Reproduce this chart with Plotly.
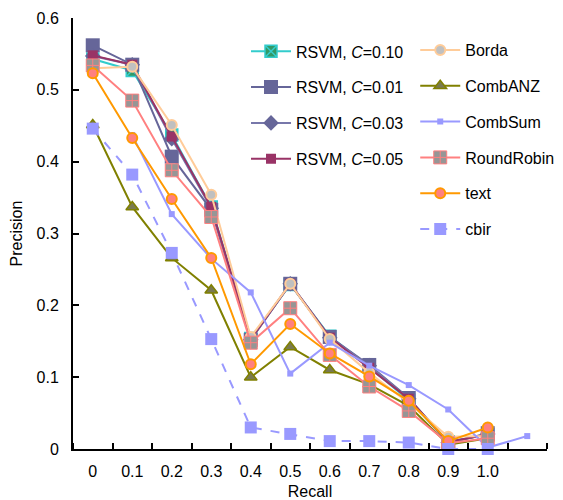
import plotly.graph_objects as go

recall_labels = ["0", "0.1", "0.2", "0.3", "0.4", "0.5", "0.6", "0.7", "0.8", "0.9", "1.0"]

rsvm_010 = [0.543, 0.527, 0.437, 0.337, 0.154, 0.229, 0.157, 0.114, 0.068, 0.010, 0.020]
rsvm_001 = [0.562, 0.535, 0.407, 0.333, 0.152, 0.230, 0.156, 0.117, 0.071, 0.008, 0.022]
rsvm_003 = [0.547, 0.535, 0.432, 0.335, 0.152, 0.230, 0.155, 0.116, 0.070, 0.009, 0.021]
rsvm_005 = [0.548, 0.535, 0.435, 0.337, 0.153, 0.230, 0.155, 0.113, 0.070, 0.010, 0.020]
borda = [0.530, 0.532, 0.451, 0.354, 0.156, 0.230, 0.153, 0.106, 0.064, 0.017, 0.018]
combanz = [0.451, 0.337, 0.266, 0.221, 0.100, 0.142, 0.110, 0.090, 0.060, 0.006, 0.015]
# CombSum is drawn shifted one position to the right (starts at the 0.1 slot)
combsum = [0.437, 0.327, 0.265, 0.218, 0.105, 0.148, 0.116, 0.089, 0.055, 0.002, 0.018]
combsum_start = 1
roundrobin = [0.534, 0.485, 0.388, 0.323, 0.148, 0.196, 0.131, 0.087, 0.053, 0.008, 0.015]
text_vals = [0.523, 0.433, 0.348, 0.266, 0.118, 0.174, 0.133, 0.101, 0.067, 0.011, 0.030]
cbir = [0.446, 0.382, 0.273, 0.153, 0.030, 0.021, 0.011, 0.011, 0.009, 0.000, 0.000]

FONT = "Liberation Sans, Arial, sans-serif"

series = [
    ("RSVM, <i>C</i>=0.10", rsvm_010, 0, dict(color="#33CCCC", width=2), dict(symbol="square-x", size=12, color="#339966", line=dict(color="#33CCCC", width=1.5)), "legend"),
    ("RSVM, <i>C</i>=0.01", rsvm_001, 0, dict(color="#666699", width=2), dict(symbol="square", size=14, color="#666699"), "legend"),
    ("RSVM, <i>C</i>=0.03", rsvm_003, 0, dict(color="#7777AA", width=2), dict(symbol="diamond", size=12, color="#666699"), "legend"),
    ("RSVM, <i>C</i>=0.05", rsvm_005, 0, dict(color="#993366", width=2), dict(symbol="square", size=10, color="#993366"), "legend"),
    ("Borda", borda, 0, dict(color="#FFCC99", width=2), dict(symbol="circle", size=10, color="#C0C0C0", line=dict(color="#FFCC99", width=2)), "legend2"),
    ("CombANZ", combanz, 0, dict(color="#808000", width=2), dict(symbol="triangle-up", size=11, color="#7A7A50", line=dict(color="#808000", width=1.5)), "legend2"),
    ("CombSum", combsum, combsum_start, dict(color="#9999FF", width=2), dict(symbol="square", size=6, color="#9999FF"), "legend2"),
    ("RoundRobin", roundrobin, 0, dict(color="#FF8080", width=2), dict(symbol="square-cross", size=13, color="#969696", line=dict(color="#FF8080", width=1)), "legend2"),
    ("text", text_vals, 0, dict(color="#FF9900", width=2), dict(symbol="circle", size=10, color="#FF8080", line=dict(color="#FF9900", width=2)), "legend2"),
    ("cbir", cbir, 0, dict(color="#9999FF", width=2, dash="dash"), dict(symbol="square", size=12, color="#9999FF"), "legend2"),
]

fig = go.Figure()
for i, (name, vals, start, line, marker, leg) in enumerate(series):
    fig.add_trace(go.Scatter(
        x=list(range(start, start + len(vals))), y=vals, name=name, mode="lines+markers",
        line=line, marker=marker, legend=leg, legendgroup="g%d" % i,
        cliponaxis=False,
    ))

fig.update_layout(
    width=555, height=492,
    margin=dict(l=65, r=16, t=10, b=51, autoexpand=False),
    paper_bgcolor="white", plot_bgcolor="white",
    font=dict(family=FONT, size=16, color="black"),
    showlegend=True,
    legend=dict(x=0.365, y=0.962, xanchor="left", yanchor="top", bgcolor="rgba(0,0,0,0)",
                tracegroupgap=12, font=dict(size=16), itemwidth=40),
    legend2=dict(x=0.722, y=0.965, xanchor="left", yanchor="top", bgcolor="rgba(0,0,0,0)",
                 tracegroupgap=12, font=dict(size=16), itemwidth=40),
    xaxis=dict(
        range=[-0.5, 11.5], tickmode="array", tickvals=list(range(len(recall_labels))),
        ticktext=recall_labels, ticks="", showgrid=False, zeroline=False,
        showline=True, linecolor="black", linewidth=2, automargin=False,
        ticklabelstandoff=7,
        minor=dict(tickmode="linear", tick0=-0.5, dtick=1, ticks="inside", ticklen=6,
                   tickwidth=2, tickcolor="black", showgrid=False),
        title=dict(text="Recall", font=dict(size=16), standoff=7),
        tickfont=dict(size=16),
    ),
    yaxis=dict(
        range=[0, 0.6], tickmode="array", tickvals=[0, 0.1, 0.2, 0.3, 0.4, 0.5, 0.6],
        ticktext=["0", "0.1", "0.2", "0.3", "0.4", "0.5", "0.6"],
        ticks="inside", ticklen=6, tickwidth=2, tickcolor="black", automargin=False,
        ticklabelstandoff=9,
        showgrid=False, zeroline=False, showline=True, linecolor="black", linewidth=2,
        title=dict(text="Precision", font=dict(size=16), standoff=10),
        tickfont=dict(size=16),
    ),
)

fig.write_html("out.html")
